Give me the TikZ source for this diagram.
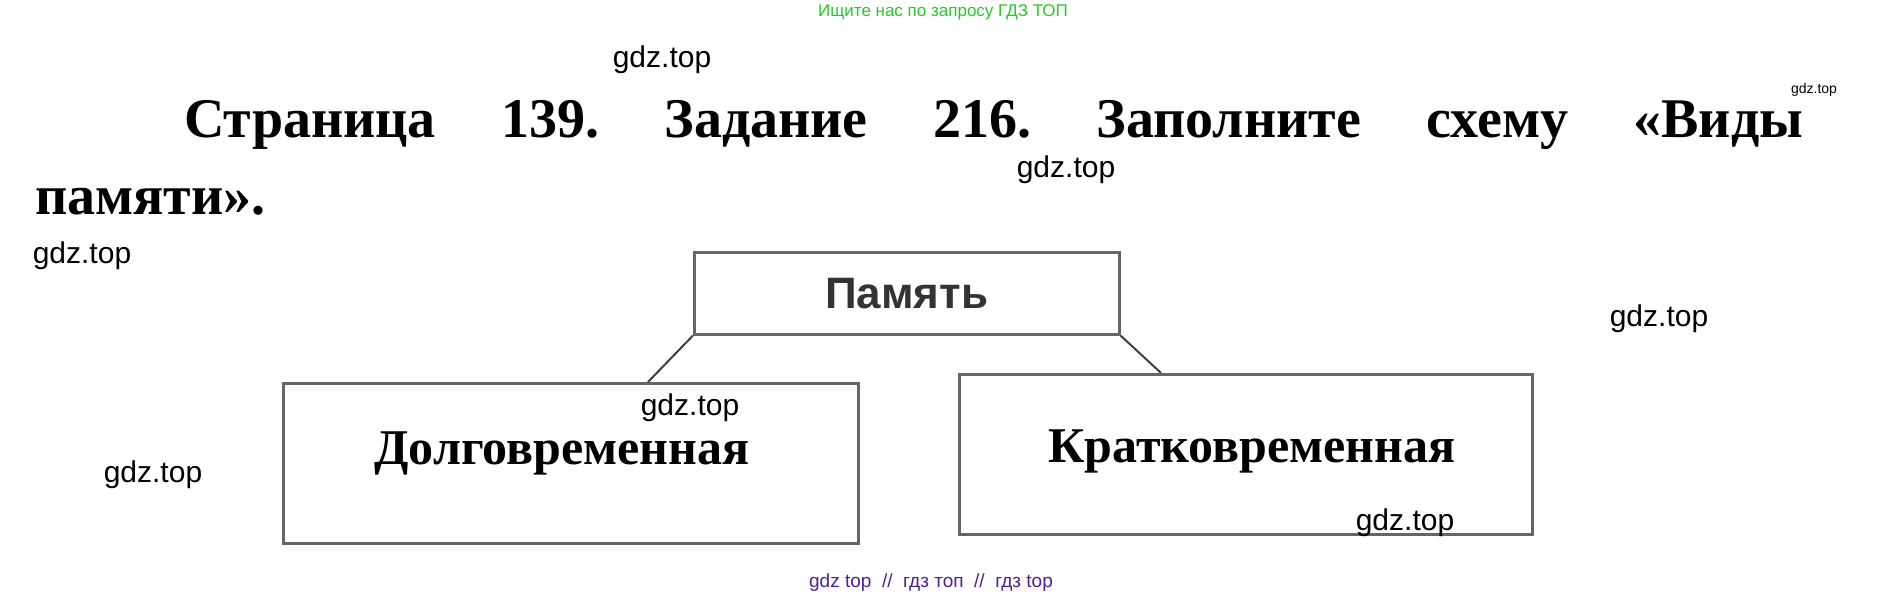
\documentclass[tikz,border=0pt]{standalone}
\usepackage{fontspec}
\setmainfont{Liberation Serif}
\newfontfamily\wmfont{Liberation Sans}
\definecolor{adgreen}{RGB}{40,200,40}
\definecolor{adpurple}{RGB}{85,30,140}
\frenchspacing
\begin{document}
\begin{tikzpicture}[x = 1pt, y = -1pt,
    cell/.style = {draw = black!60, line width = 2.5pt, inner sep = 0, anchor = north west},
    word/.style = {font = \fontsize{50}{60}\selectfont\bfseries, anchor = base, inner sep = 0},
    title/.style = {font = \fontsize{56}{67}\selectfont\bfseries, anchor = base west, inner sep = 0},
    wm/.style = {font = \wmfont\fontsize{30}{36}\selectfont, anchor = base, inner sep = 0},
    ad/.style = {font = \wmfont\fontsize{17}{20}\selectfont, anchor = base, inner sep = 0},
    link/.style = {draw = black!75, line width = 2pt}]
        \useasboundingbox [fill = white] (0, 0) rectangle (1888, 594);
        \node [ad, text = adgreen] (search) at (943, 17) {Ищите нас по запросу ГДЗ ТОП};
        \node [ad, text = adpurple, font = \wmfont\fontsize{19}{22}\selectfont] (footer) at (931, 587)
        {gdz top\ \ //\ \ гдз топ\ \ //\ \ гдз top};
        \node [title] (line1) at (184, 137)
        {\makebox[1619pt][s]{Страница 139. Задание 216. Заполните схему «Виды}};
        \node [title] (line2) at (35, 214) {памяти».};
        \node [cell, minimum width = 425pt, minimum height = 82pt,
            font = \wmfont\fontsize{44}{50}\selectfont\bfseries, text = black!80] (pamyat) at (693, 251) {Память};
        \node [cell, minimum width = 575pt, minimum height = 160pt] (dolg) at (282, 382) {};
        \node [cell, minimum width = 573pt, minimum height = 160pt] (krat) at (958, 373) {};
        \draw [link] (pamyat.south west) -- ([xshift = 366pt]dolg.north west);
        \draw [link] (pamyat.south east) -- ([xshift = 203pt]krat.north west);
        \node [word] (dolgtext) at (562, 464) {Долговременная};
        \node [word] (krattext) at (1252, 462) {Кратковременная};
        \node [wm] (wm1) at (662, 67) {gdz.top};
        \node [wm] (wm2) at (1066, 177) {gdz.top};
        \node [wm] (wm3) at (82, 263) {gdz.top};
        \node [wm] (wm4) at (1659, 326) {gdz.top};
        \node [wm] (wm5) at (690, 415) {gdz.top};
        \node [wm] (wm6) at (153, 482) {gdz.top};
        \node [wm] (wm7) at (1405, 530) {gdz.top};
        \node [wm, font = \wmfont\fontsize{14}{16}\selectfont] (wm8) at (1814, 93) {gdz.top};
    \end{tikzpicture}
\end{document}
